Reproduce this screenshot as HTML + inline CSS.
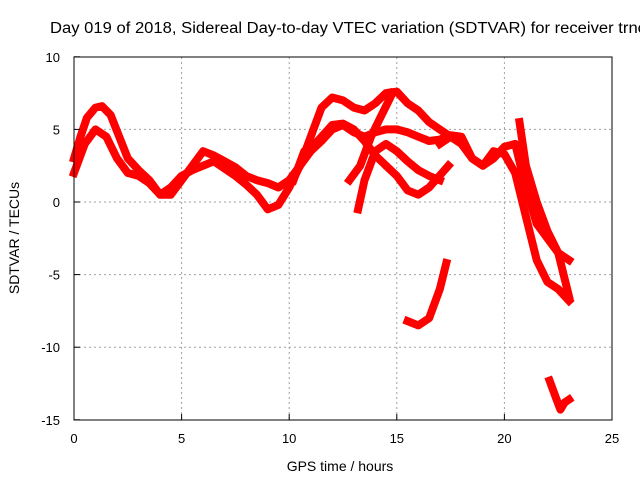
<!DOCTYPE html>
<html><head><meta charset="utf-8"><style>
body{margin:0;background:#fff}
svg{display:block;font-family:"Liberation Sans",sans-serif}
</style></head><body>
<svg id="c" width="640" height="480">
<text x="50" y="33" font-size="15.5" textLength="596" lengthAdjust="spacingAndGlyphs">Day 019 of 2018, Sidereal Day-to-day VTEC variation (SDTVAR) for receiver trnc</text>
<g id="grid"></g><g id="series"></g><g id="axes"></g>
<text x="340" y="471" font-size="14" text-anchor="middle">GPS time / hours</text>
<text transform="translate(19,238) rotate(-90)" font-size="14" text-anchor="middle">SDTVAR / TECUs</text>
</svg>
<script>
const xTicks=[0,5,10,15,20,25];
const yTicks=[10,5,0,-5,-10,-15];
const s1h=[0,0.3,0.6,1.0,1.3,1.7,2.1,2.5,3,3.5,4,4.5,5,5.5,6,6.5,7,7.5,8,8.5,9,9.5,10,10.5,11,11.5,12,12.5,13,13.5,14,14.5,15,15.5,16,16.5,17,17.5];
const s1v=[3,4.5,5.8,6.5,6.6,6,4.5,3,2.2,1.5,0.5,0.5,1.5,2.5,3.5,3.2,2.8,2.4,1.8,1.5,1.3,1.0,1.5,2.5,4.5,6.5,7.2,7,6.5,6.3,6.8,7.5,7.6,6.8,6.3,5.5,5,4.5];
const s2h=[0,0.5,1,1.5,2,2.5,3,3.5,4,4.5,5,5.5,6,6.5,7,7.5,8,8.5,9,9.5,10,10.5,11,11.5,12,12.5,13,13.5,14,14.5,15,15.5,16,16.5,17,17.5,18,18.5,19,19.5,20,20.5,21,21.5,22,22.5,23];
const s2v=[2,4,5,4.5,3,2,1.8,1.3,0.5,1,1.8,2.2,2.5,2.8,2.3,1.8,1.2,0.5,-0.5,-0.2,1,2.5,3.5,4.2,5,5.3,4.8,4.5,4.8,5,5,4.8,4.5,4.2,4.3,4.6,4.5,3,2.5,3.5,3.3,2,-1,-4,-5.5,-6,-6.8];
const s3h=[10.2,10.7,11.2,12,12.5,13,13.5,14,14.5,15,15.5,16,16.5,16.8,17.1,17.4];
const s3v=[1.5,3.5,4,5.3,5.4,5,4.2,3.2,2.5,1.8,0.8,0.5,1.0,1.5,2.0,2.5];
const s4h=[13.2,13.5,14,14.5,15,15.5,16,16.5,17];
const s4v=[-0.5,1.5,3.5,4,3.5,2.8,2.2,1.8,1.5];
const s5h=[12.8,13.3,13.8,14.3,14.8];
const s5v=[1.5,2.5,4.5,6,7.5];
const s6h=[15.5,16,16.5,17,17.3];
const s6v=[-8.2,-8.5,-8,-6,-4.2];
const s7h=[17,17.5,18,18.5,19,19.5,20,20.5,21,21.5,22,22.5,23];
const s7v=[4,4.5,4,3,2.5,3,3.8,4,1,-1.5,-2.5,-3.5,-4];
const s8h=[20.7,21,21.5,22,22.5,23];
const s8v=[5.5,2.5,0,-2,-3.5,-6.5];
const s9h=[22.1,22.4,22.6,22.8,23];
const s9v=[-12.3,-13.5,-14.3,-13.8,-13.6];
const seriesH=[s1h,s2h,s3h,s4h,s5h,s6h,s7h,s8h,s9h];
const seriesV=[s1v,s2v,s3v,s4v,s5v,s6v,s7v,s8v,s9v];
const X=h=>74+h*(538/25), Y=v=>202-v*(363/25);
const NS="http://www.w3.org/2000/svg";
const grid=document.getElementById('grid'),axes=document.getElementById('axes'),ser=document.getElementById('series');
function mk(t,a,p){const e=document.createElementNS(NS,t);for(const k in a)e.setAttribute(k,a[k]);p.appendChild(e);return e;}
xTicks.forEach(t=>{const x=X(t);
 if(t>0&&t<25){const l=mk('line',{x1:x,y1:57,x2:x,y2:420,stroke:'#a0a0a0','stroke-dasharray':'2,3'},grid);
 
 }
 const tx=mk('text',{x:x,y:443,'font-size':13,'text-anchor':'middle'},axes);tx.textContent=t;
 
 
 mk('line',{x1:x,y1:420,x2:x,y2:414,stroke:'#000'},axes);});
yTicks.forEach(t=>{const y=Y(t);
 if(t<10&&t>-15){const l=mk('line',{x1:74,y1:y,x2:612,y2:y,stroke:'#a0a0a0','stroke-dasharray':'2,3'},grid);
 
 }
 const tx=mk('text',{x:60,y:y+5,'font-size':13,'text-anchor':'end'},axes);tx.textContent=t;
 
 
 mk('line',{x1:74,y1:y,x2:80,y2:y,stroke:'#000'},axes);});
const fr=mk('rect',{x:74,y:57,width:538,height:363,fill:'none',stroke:'#000'},axes);


seriesH.forEach((hs,i)=>{const vs=seriesV[i];
 const pts=hs.map((h,j)=>X(h).toFixed(1)+','+Y(vs[j]).toFixed(1)).join(' ');
 const p=mk('polyline',{points:pts,fill:'none',stroke:'#ff0000','stroke-width':8,'stroke-linejoin':'round','stroke-linecap':'square'},ser);
 
 });
</script>
</body></html>
